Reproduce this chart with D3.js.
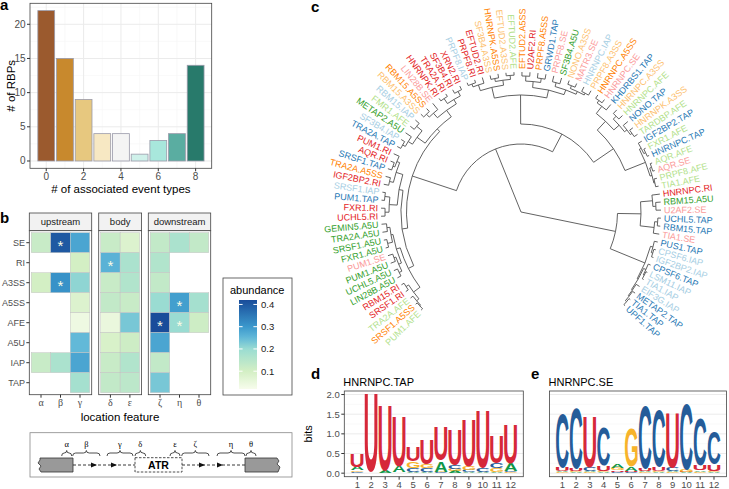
<!DOCTYPE html>
<html><head><meta charset="utf-8">
<script src="https://cdn.jsdelivr.net/npm/d3@7/dist/d3.min.js"></script>
<style>html,body{margin:0;padding:0;background:#fff}svg{display:block}</style>
</head><body>
<svg id="fig" width="729" height="489" font-family="Liberation Sans, Arial, Helvetica, sans-serif"></svg>
<script>
// ================= DATA =================
// panel a
const eventTypeCounts = [0,1,2,3,4,5,6,7,8];
const rbpCounts = [22,15,9,4,4,1,3,4,14];
const barColors = ["#9b5a2e","#c8892d","#e7c87f","#f7e8c3","#f4f4f4","#cff1ea","#a8e7dc","#5aada1","#287a6b"];
const aXTicks = [0,2,4,6,8];
const aYTicks = [0,5,10,15,20];
// panel b
const eventTypes = ["SE","RI","A3SS","A5SS","AFE","A5U","IAP","TAP"];
const facetNames = ["upstream","body","downstream"];
const upstreamCols = ["α","β","γ"];
const bodyCols = ["δ","ε"];
const downstreamCols = ["ζ","η","θ"];
// abundance per location column, in eventTypes order (null = no tile)
const abundance = {
  "α":[0.12,null,0.10,null,null,null,0.12,null],
  "β":[0.40,null,0.31,null,null,null,0.17,null],
  "γ":[0.28,0.10,0.21,0.08,0.04,0.25,0.28,0.18],
  "δ":[0.12,0.26,0.12,0.13,0.05,0.09,0.12,0.13],
  "ε":[0.08,0.17,0.16,0.12,0.23,0.11,0.16,0.14],
  "ζ":[0.13,0.16,0.13,0.20,0.42,0.28,0.13,0.23],
  "η":[0.17,null,null,0.29,0.20,null,null,null],
  "θ":[0.13,null,null,0.18,0.11,null,null,null]
};
const significant = [["β","SE"],["β","A3SS"],["δ","RI"],["η","A5SS"],["ζ","AFE"],["η","AFE"]];
const legendTicks = [0.1,0.2,0.3,0.4];
const colorStops = [0.02,0.1,0.2,0.25,0.3,0.42];
const colorStopValues = ["#f7fcec","#d3efc4","#9adcd2","#62b9d8","#3b98cc","#194c9a"];
// panel c : dendrogram (node heights after ':' )
const X1 = "(((PUM1.AFE,SRSF1.A5SS):2,TRA2A.AFE):3,(SRSF1.RI,RBM15.RI):3):6";
const X2 = "(((LIN28B.A5U,UCHL5.A5U):4,(PUM1.A5U,PUM1.SE):5):7,((FXR1.A5U,SRSF1.A5U):3,(TRA2A.A5U,GEMIN5.A5U):5):8):10";
const L2 = "(((UCHL5.RI,FXR1.RI):4,(PUM1.TAP,SRSF1.IAP):3):8,((IGF2BP2.RI,TRA2A.A5SS):5,((SRSF1.TAP,AQR.RI):4,PUM1.RI):6):9):16";
const A1b = "((((TRA2A.TAP,SF3B4.IAP):4,METAP2.A5U):7,(FMR1.AFE,RBM15.IAP):5):12,(((RBM15.A3SS,RBM15.A5SS):4,LIN28B.SE):8,((HNRNPK.RI,TRA2A.RI):3,(SF3B4.RI,XRN2.RI):4):9):14):22";
const A2a = "((((PRPF8.IAP,PRPF8.RI):3,EFTUD2.RI):6,((SF3B4.A3SS,HNRNPK.A5SS):4,(EFTUD2.A3SS,EFTUD2.AFE):3):7):12,(((EFTUD2.A5SS,U2AF2.RI):4,(PRPF8.A5SS,GRWD1.TAP):5):9,((PRPF8.SE,SF3B4.A5U):6,((NONO.A3SS,MATR3.SE):4,(HNRNPC.IAP,PRPF8.A3SS):5):7):10):15):23";
const A2b = "((((HNRNPC.A5SS,HNRNPC.SE):4,KHDRBS1.TAP):7,((HNRNPC.A3SS,HNRNPC.AFE):5,(NONO.TAP,(HNRNPK.A3SS,TARDBP.AFE):4):6):9):16,((IGF2BP2.TAP,(FXR1.AFE,HNRNPC.TAP):2):4,((AQR.AFE,AQR.SE):2,(PRPF8.AFE,TIA1.AFE):3):4):6):28";
const B1 = "((HNRNPC.RI,(RBM15.A5U,U2AF2.SE):5):8,((UCHL5.TAP,RBM15.TAP):3,TIA1.SE):6):20";
const B2 = "((PUS1.TAP,(CPSF6.IAP,IGF2BP2.IAP):2):3.5,((CPSF6.TAP,(LSM11.IAP,TIA1.IAP):1.5):2.5,(EIF3G.IAP,(METAP2.TAP,(TIA1.TAP,UPF1.TAP):1.5):3):4):5):6";
const treeNewick = `(((((${X1},${X2}):14,${L2}):20,${A1b}):25.5,(${A2a},${A2b}):52):72,(${B1},${B2}):43.5):140`;
const eventColors = {A5U:"#33a02c",AFE:"#b2df8a",RI:"#e31a1c",SE:"#fb9a99",A5SS:"#ff7f00",A3SS:"#fdbf6f",TAP:"#1f78b4",IAP:"#a6cee3"};
// panels d, e : sequence logos (bits per nucleotide, positions 1..12)
const logoPositions = [1,2,3,4,5,6,7,8,9,10,11,12];
const tapU = [0.33,1.98,1.64,1.25,0.35,0.62,0.85,0.90,1.20,1.45,0.70,1.00];
const tapA = [0.08,0.00,0.06,0.15,0.04,0.04,0.27,0.05,0.02,0.03,0.04,0.18];
const tapC = [0.04,0.01,0.00,0.01,0.10,0.08,0.02,0.08,0.05,0.10,0.12,0.04];
const tapG = [0.04,0.01,0.00,0.01,0.17,0.10,0.02,0.06,0.10,0.00,0.08,0.02];
const seC = [1.38,1.55,0.10,0.98,0.04,0.03,1.60,1.45,0.08,1.66,1.22,0.82];
const seU = [0.08,0.06,1.30,0.14,0.04,0.03,0.07,0.10,1.38,0.02,0.12,0.17];
const seG = [0.02,0.03,0.02,0.03,0.05,0.98,0.02,0.03,0.02,0.05,0.03,0.03];
const seA = [0.03,0.03,0.03,0.03,0.08,0.10,0.03,0.02,0.03,0.02,0.04,0.03];
const bitTicks = [0,0.5,1,1.5,2];
const nucColors = {A:"#109648",C:"#255c99",G:"#f7b32b",U:"#d62839"};

// ================= DRAWING =================
const svg = d3.select("#fig");
const tickCol = "#4d4d4d", borderCol = "#444", gridMaj = "#ebebeb", gridMin = "#f5f5f5";
function panelLetter(t,x,y){ svg.append("text").attr("x",x).attr("y",y).attr("font-size",15).attr("font-weight","bold").text(t); }

// ---------- panel a ----------
(function(){
  const g = svg.append("g");
  const L=30,R=211.7,T=3.3,B=168.3;
  const x = d3.scaleLinear().domain([-0.87,8.86]).range([L,R]);
  const y = d3.scaleLinear().domain([-1.07,23.07]).range([B,T]);
  [1,3,5,7].forEach(v=>g.append("line").attr("x1",x(v)).attr("x2",x(v)).attr("y1",T).attr("y2",B).attr("stroke",gridMin).attr("stroke-width",0.6));
  [2.5,7.5,12.5,17.5,22.5].forEach(v=>g.append("line").attr("x1",L).attr("x2",R).attr("y1",y(v)).attr("y2",y(v)).attr("stroke",gridMin).attr("stroke-width",0.6));
  aXTicks.forEach(v=>g.append("line").attr("x1",x(v)).attr("x2",x(v)).attr("y1",T).attr("y2",B).attr("stroke",gridMaj).attr("stroke-width",1));
  aYTicks.forEach(v=>g.append("line").attr("x1",L).attr("x2",R).attr("y1",y(v)).attr("y2",y(v)).attr("stroke",gridMaj).attr("stroke-width",1));
  g.selectAll("rect.bar").data(eventTypeCounts).join("rect").attr("class","bar")
    .attr("x",d=>x(d-0.45)).attr("width",x(0.45)-x(-0.45))
    .attr("y",(d,i)=>y(rbpCounts[i])).attr("height",(d,i)=>y(0)-y(rbpCounts[i]))
    .attr("fill",(d,i)=>barColors[i]).attr("stroke","#9a9aaa").attr("stroke-width",0.8);
  g.append("rect").attr("x",L).attr("y",T).attr("width",R-L).attr("height",B-T).attr("fill","none").attr("stroke",borderCol).attr("stroke-width",0.8);
  aXTicks.forEach(v=>{
    g.append("line").attr("x1",x(v)).attr("x2",x(v)).attr("y1",B).attr("y2",B+3).attr("stroke","#333");
    g.append("text").attr("x",x(v)).attr("y",180).attr("text-anchor","middle").attr("font-size",10).attr("fill",tickCol).text(v);
  });
  aYTicks.forEach(v=>{
    g.append("line").attr("x1",L-3).attr("x2",L).attr("y1",y(v)).attr("y2",y(v)).attr("stroke","#333");
    g.append("text").attr("x",L-4.5).attr("y",y(v)+3.5).attr("text-anchor","end").attr("font-size",10).attr("fill",tickCol).text(v);
  });
  g.append("text").attr("x",(L+R)/2).attr("y",193).attr("text-anchor","middle").attr("font-size",11.5).text("# of associated event types");
  g.append("text").attr("transform",`translate(15,${(T+B)/2}) rotate(-90)`).attr("text-anchor","middle").attr("font-size",11.5).text("# of RBPs");
})();
panelLetter("a",0,10);

// ---------- panel b ----------
(function(){
  const g = svg.append("g");
  const color = d3.scaleLinear().domain(colorStops).range(colorStopValues).clamp(true);
  const rowY = d3.scalePoint().domain(eventTypes).range([230.7,394.7]).padding(0.6);
  const facetCols = {upstream:upstreamCols, body:bodyCols, downstream:downstreamCols};
  const facetX0 = {upstream:29.3, body:98.7, downstream:148.3};
  const colUnit = 19.5, rowH = rowY.step();
  const panT = 230.7, panB = 394.7, stripT = 213;
  facetNames.forEach(f=>{
    const cols = facetCols[f];
    const x0 = facetX0[f], x1 = x0 + (cols.length+0.2)*colUnit;
    const cx = d3.scalePoint().domain(cols).range([x0,x1]).padding(0.6);
    g.append("rect").attr("x",x0).attr("y",stripT).attr("width",x1-x0).attr("height",panT-stripT).attr("fill","#f2f2f2").attr("stroke",borderCol).attr("stroke-width",0.8);
    g.append("text").attr("x",(x0+x1)/2).attr("y",stripT+12).attr("text-anchor","middle").attr("font-size",9.5).attr("fill","#1a1a1a").text(f);
    g.append("rect").attr("x",x0).attr("y",panT).attr("width",x1-x0).attr("height",panB-panT).attr("fill","#fff");
    cols.forEach(c=>{
      eventTypes.forEach((ev,i)=>{
        const v = abundance[c][i];
        if(v==null) return;
        g.append("rect").attr("x",cx(c)-colUnit/2).attr("y",rowY(ev)-rowH/2).attr("width",colUnit).attr("height",rowH)
          .attr("fill",color(v)).attr("stroke","#c4c4c4").attr("stroke-width",0.5);
      });
    });
    significant.filter(s=>cols.includes(s[0])).forEach(s=>{
      g.append("text").attr("x",cx(s[0])).attr("y",rowY(s[1])+8.5).attr("text-anchor","middle").attr("font-size",15).attr("fill","#fbfbe6").text("*");
    });
    g.append("rect").attr("x",x0).attr("y",panT).attr("width",x1-x0).attr("height",panB-panT).attr("fill","none").attr("stroke",borderCol).attr("stroke-width",0.8);
    cols.forEach(c=>{
      g.append("line").attr("x1",cx(c)).attr("x2",cx(c)).attr("y1",panB).attr("y2",panB+3).attr("stroke","#333");
      g.append("text").attr("x",cx(c)).attr("y",406).attr("text-anchor","middle").attr("font-size",10).attr("font-family","Liberation Serif, DejaVu Serif, serif").attr("fill",tickCol).text(c);
    });
  });
  eventTypes.forEach(ev=>{
    g.append("line").attr("x1",26.3).attr("x2",29.3).attr("y1",rowY(ev)).attr("y2",rowY(ev)).attr("stroke","#333");
    g.append("text").attr("x",25).attr("y",rowY(ev)+3.2).attr("text-anchor","end").attr("font-size",9).attr("fill",tickCol).text(ev);
  });
  g.append("text").attr("x",120).attr("y",421).attr("text-anchor","middle").attr("font-size",11.5).text("location feature");
  // legend
  const lg = g.append("g");
  lg.append("rect").attr("x",223).attr("y",278).attr("width",69).attr("height",117).attr("fill","#fff").attr("stroke",borderCol).attr("stroke-width",0.8);
  lg.append("text").attr("x",230).attr("y",294).attr("font-size",11).text("abundance");
  const ly = d3.scaleLinear().domain([0.02,0.42]).range([389,300]);
  const grad = svg.append("defs").append("linearGradient").attr("id","abgrad").attr("x1",0).attr("x2",0).attr("y1",1).attr("y2",0);
  d3.range(0,1.0001,0.05).forEach(t=>{
    const v = 0.02+0.4*t;
    grad.append("stop").attr("offset",t).attr("stop-color",color(v));
  });
  lg.append("rect").attr("x",239).attr("y",300).attr("width",18).attr("height",89).attr("fill","url(#abgrad)");
  legendTicks.forEach(v=>{
    lg.append("line").attr("x1",239).attr("x2",242.6).attr("y1",ly(v)).attr("y2",ly(v)).attr("stroke","#fff");
    lg.append("line").attr("x1",253.4).attr("x2",257).attr("y1",ly(v)).attr("y2",ly(v)).attr("stroke","#fff");
    lg.append("text").attr("x",261).attr("y",ly(v)+3.5).attr("font-size",9.5).attr("fill","#1a1a1a").text(v.toFixed(1));
  });
  // schematic
  const s = g.append("g");
  s.append("rect").attr("x",30).attr("y",432.7).attr("width",262).attr("height",44.3).attr("fill","#fff").attr("stroke","#888").attr("stroke-width",0.8);
  const ex = "#999999";
  s.append("path").attr("d","M40,458 L73,458 L73,472 L41,472 L39,469 L41,466 L38,463 L40,460 Z").attr("fill",ex).attr("stroke","#333").attr("stroke-width",0.8);
  s.append("path").attr("d","M245,458 L277,458 L279,461 L277,464 L280,467 L278,472 L245,472 Z").attr("fill",ex).attr("stroke","#333").attr("stroke-width",0.8);
  const ly2 = 465;
  [[73,135],[182,245]].forEach(([a,b])=>s.append("line").attr("x1",a).attr("x2",b).attr("y1",ly2).attr("y2",ly2).attr("stroke","#222").attr("stroke-dasharray","3,2").attr("stroke-width",0.9));
  [95,115,203,221].forEach(ax=>s.append("path").attr("d",`M${ax-4},${ly2-2.6} L${ax+2},${ly2} L${ax-4},${ly2+2.6} Z`).attr("fill","#111"));
  s.append("rect").attr("x",135).attr("y",457.7).attr("width",47).attr("height",14.3).attr("fill","#fff").attr("stroke","#222").attr("stroke-dasharray","2.5,1.5").attr("stroke-width",0.8);
  s.append("text").attr("x",158.5).attr("y",469.2).attr("text-anchor","middle").attr("font-size",10.5).attr("font-weight","bold").text("ATR");
  const braces = [["α",61.7,71.7],["β",72.7,100],["γ",107,133],["δ",135,145.7],["ε",170,180],["ζ",181.7,209],["η",217,245],["θ",246,256]];
  braces.forEach(([lab,a,b])=>{
    const m=(a+b)/2, q=Math.min(3,(b-a)/4), yb=456, ym=453, yt=450.5;
    s.append("path").attr("d",`M${a},${yb} Q${a},${ym} ${a+q},${ym} L${m-q},${ym} Q${m},${ym} ${m},${yt} Q${m},${ym} ${m+q},${ym} L${b-q},${ym} Q${b},${ym} ${b},${yb}`)
      .attr("fill","none").attr("stroke","#222").attr("stroke-width",0.8);
    s.append("text").attr("x",m).attr("y",447).attr("text-anchor","middle").attr("font-size",8.5).attr("font-family","Liberation Serif, DejaVu Serif, serif").text(lab);
  });
})();
panelLetter("b",0,223);

// ---------- panel c ----------
(function(){
  function parseTree(s){
    let i=0;
    function node(){
      if(s[i]==="("){
        i++; const ch=[node()];
        while(s[i]===","){ i++; ch.push(node()); }
        i++; let h=0;
        if(s[i]===":"){ i++; const m=/^[0-9.]+/.exec(s.slice(i)); h=+m[0]; i+=m[0].length; }
        return {children:ch,h:h};
      }
      const m=/^[^,():]+/.exec(s.slice(i)); i+=m[0].length;
      return {name:m[0],h:0};
    }
    return node();
  }
  const root = parseTree(treeNewick);
  const leaves=[];
  (function walk(n){ if(n.children) n.children.forEach(walk); else leaves.push(n); })(root);
  const cx=521, cy=212;
  const angle = d3.scaleLinear().domain([0,leaves.length-1]).range([-134.5,132]);
  const rad = d3.scaleLinear().domain([0,root.h]).range([140,0]);
  leaves.forEach((l,i)=>l.a=angle(i));
  (function setA(n){ if(n.children){ n.children.forEach(setA); n.a=d3.mean(n.children,c=>c.a);} })(root);
  const P=(r,a)=>{const t=a*Math.PI/180; return [cx+r*Math.sin(t), cy-r*Math.cos(t)];};
  const g=svg.append("g").attr("fill","none").attr("stroke","#505050").attr("stroke-width",0.9);
  (function draw(n){
    if(!n.children) return;
    const r=rad(n.h);
    const a1=d3.min(n.children,c=>c.a), a2=d3.max(n.children,c=>c.a);
    if(r>0.5){
      const p1=P(r,a1), p2=P(r,a2);
      g.append("path").attr("d",`M${p1[0]},${p1[1]} A${r},${r} 0 ${a2-a1>180?1:0} 1 ${p2[0]},${p2[1]}`);
    }
    n.children.forEach(c=>{
      const q1=P(r,c.a), q2=P(rad(c.h),c.a);
      g.append("line").attr("x1",q1[0]).attr("y1",q1[1]).attr("x2",q2[0]).attr("y2",q2[1]);
      draw(c);
    });
  })(root);
  const lgrp=svg.append("g").attr("font-size",9);
  leaves.forEach(l=>{
    const p=P(143,l.a), ev=l.name.split(".")[1];
    const right=l.a>=0;
    lgrp.append("text").attr("transform",`translate(${p[0]},${p[1]}) rotate(${right?l.a-90:l.a+90})`)
      .attr("text-anchor",right?"start":"end").attr("dy","0.35em").attr("fill",eventColors[ev]).text(l.name);
  });
})();
panelLetter("c",311,12);

// ---------- panels d, e ----------
const mctx=document.createElement("canvas").getContext("2d");
mctx.font="bold 100px 'Liberation Sans'";
const glyph={};
["A","C","G","U"].forEach(l=>{const m=mctx.measureText(l); glyph[l]={L:m.actualBoundingBoxLeft,R:m.actualBoundingBoxRight,A:m.actualBoundingBoxAscent,D:m.actualBoundingBoxDescent};});
function drawLetter(g,l,x0,x1,yb,yt){
  const m=glyph[l], sx=(x1-x0)/(m.L+m.R), sy=(yb-yt)/(m.A+m.D);
  if(sy<=0.0005) return;
  g.append("text").attr("transform",`translate(${x0},${yb}) scale(${sx},${sy}) translate(${m.L},${-m.D})`)
    .attr("font-family","Liberation Sans").attr("font-weight","bold").attr("font-size",100).attr("fill",nucColors[l]).text(l);
}
function logo(opts){
  const {L,R,T,B,title,letter,lx,series,yAxis}=opts;
  const g=svg.append("g");
  const x=d3.scaleLinear().domain([0.07,12.9]).range([L,R]);
  const y=d3.scaleLinear().domain([-0.09,2.09]).range([B,T]);
  g.append("rect").attr("x",L).attr("y",T).attr("width",R-L).attr("height",B-T).attr("fill","#fff");
  [0.25,0.75,1.25,1.75].forEach(v=>g.append("line").attr("x1",L).attr("x2",R).attr("y1",y(v)).attr("y2",y(v)).attr("stroke",gridMin).attr("stroke-width",0.6));
  bitTicks.forEach(v=>g.append("line").attr("x1",L).attr("x2",R).attr("y1",y(v)).attr("y2",y(v)).attr("stroke",gridMaj).attr("stroke-width",1));
  const step=x(2)-x(1), w=step*0.92;
  logoPositions.forEach((p,i)=>{
    const stack=Object.keys(series).map(k=>({k,v:series[k][i]})).sort((a,b)=>a.v-b.v);
    let acc=0;
    stack.forEach(s=>{ drawLetter(g,s.k,x(p)-w/2,x(p)+w/2,y(acc),y(acc+s.v)); acc+=s.v; });
  });
  g.append("rect").attr("x",L).attr("y",T).attr("width",R-L).attr("height",B-T).attr("fill","none").attr("stroke",borderCol).attr("stroke-width",0.8);
  logoPositions.forEach(p=>{
    g.append("line").attr("x1",x(p)).attr("x2",x(p)).attr("y1",B).attr("y2",B+3).attr("stroke","#333");
    g.append("text").attr("x",x(p)).attr("y",488).attr("text-anchor","middle").attr("font-size",9.5).attr("fill",tickCol).text(p);
  });
  if(yAxis){
    bitTicks.forEach(v=>{
      g.append("line").attr("x1",L-3).attr("x2",L).attr("y1",y(v)).attr("y2",y(v)).attr("stroke","#333");
      g.append("text").attr("x",L-4.5).attr("y",y(v)+3.5).attr("text-anchor","end").attr("font-size",9.5).attr("fill",tickCol).text(v.toFixed(1));
    });
    g.append("text").attr("transform",`translate(312,${(T+B)/2}) rotate(-90)`).attr("text-anchor","middle").attr("font-size",11).text("bits");
  }
  g.append("text").attr("x",L-1).attr("y",386).attr("font-size",11).text(title);
  panelLetter(letter,lx,379);
}
logo({L:344.3,R:523.3,T:391,B:476.7,title:"HNRNPC.TAP",letter:"d",lx:311,series:{A:tapA,C:tapC,G:tapG,U:tapU},yAxis:true});
logo({L:549.5,R:726.4,T:391,B:476.7,title:"HNRNPC.SE",letter:"e",lx:531,series:{A:seA,C:seC,G:seG,U:seU},yAxis:false});
</script>
</body></html>
